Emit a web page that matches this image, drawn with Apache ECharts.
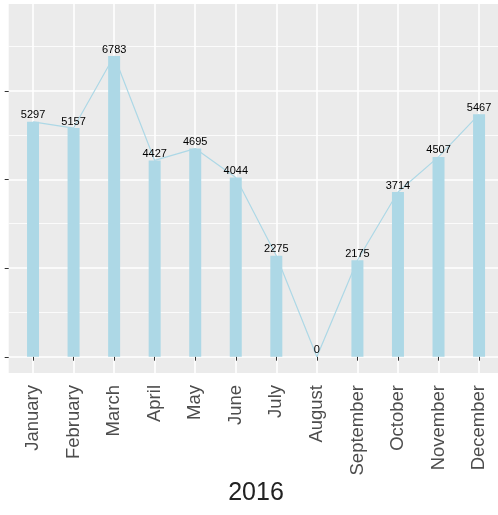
<!DOCTYPE html>
<html>
<head>
<meta charset="utf-8">
<script src="https://cdn.jsdelivr.net/npm/echarts@6/dist/echarts.min.js"></script>
<style>
  html, body { margin: 0; padding: 0; background: #fff; }
  #chart { width: 498px; height: 515px; }
</style>
</head>
<body>
<div id="chart"></div>
<script>
// data
const months = ['January', 'February', 'March', 'April', 'May', 'June',
  'July', 'August', 'September', 'October', 'November', 'December']
const orders = [5297, 5157, 6783, 4427, 4695, 4044, 2275, 0, 2175, 3714, 4507, 5467]
const yMajorTicks = [0, 2000, 4000, 6000]
const yMinorTicks = [1000, 3000, 5000, 7000]
const yearLabel = '2016'

const font = 'Liberation Sans, Arial, Helvetica, sans-serif'
const barColor = '#ADD8E6'
const gridLeft = 8.7

const points = orders.map((v, i) => [i, v])
const monthIdx = months.map((m, i) => i)

const chart = echarts.init(document.getElementById('chart'))
chart.setOption({
  animation: false,
  textStyle: { fontFamily: font },
  grid: {
    left: gridLeft,
    right: 0,
    top: 4,
    bottom: 142,
    show: true,
    backgroundColor: '#EBEBEB',
    borderWidth: 0
  },
  xAxis: {
    type: 'value',
    min: -0.6,
    max: 11.467,
    axisLine: { show: false },
    axisTick: {
      show: true,
      customValues: monthIdx,
      length: 4,
      lineStyle: { color: '#333', width: 1 }
    },
    axisLabel: {
      customValues: monthIdx,
      formatter: v => months[v] || '',
      rotate: 90,
      margin: 12,
      fontSize: 18.5,
      color: '#4D4D4D',
      fontFamily: font
    },
    splitLine: { show: true, lineStyle: { color: '#fff', width: 1.6 } }
  },
  yAxis: [
    {
      type: 'value',
      min: -368,
      max: 7956,
      axisLine: { show: false },
      axisTick: { show: false, customValues: yMajorTicks },
      axisLabel: { show: false, customValues: yMajorTicks },
      splitLine: { show: true, lineStyle: { color: '#fff', width: 1.6 } }
    },
    {
      // minor grid lines only
      type: 'value',
      position: 'left',
      min: -368,
      max: 7956,
      axisLine: { show: false },
      axisTick: { show: false, customValues: yMinorTicks },
      axisLabel: { show: false, customValues: yMinorTicks },
      splitLine: { show: true, lineStyle: { color: '#fff', width: 0.8 } }
    }
  ],
  series: [
    {
      type: 'line',
      data: points,
      symbol: 'none',
      lineStyle: { color: barColor, width: 1.2 },
      z: 1
    },
    {
      type: 'bar',
      data: points,
      barWidth: 12,
      itemStyle: { color: barColor },
      label: {
        show: true,
        position: 'top',
        distance: 1,
        fontSize: 11,
        color: '#000',
        fontFamily: font,
        formatter: p => p.value[1]
      },
      z: 2
    }
  ]
})

// y ticks (no labels in the original), placed through the axis scale
const yTicks = yMajorTicks.map(v => {
  const y = Math.round(chart.convertToPixel({ yAxisIndex: 0 }, v)) + 0.5
  return {
    type: 'line',
    shape: { x1: gridLeft - 4, y1: y, x2: gridLeft, y2: y },
    style: { stroke: '#333', lineWidth: 1 }
  }
})

chart.setOption({
  graphic: [...yTicks, {
    type: 'text',
    x: 256,
    y: 493,
    style: {
      text: yearLabel,
      font: '25px ' + font,
      fill: '#222',
      textAlign: 'center',
      textVerticalAlign: 'middle'
    }
  }]
})
</script>
</body>
</html>
